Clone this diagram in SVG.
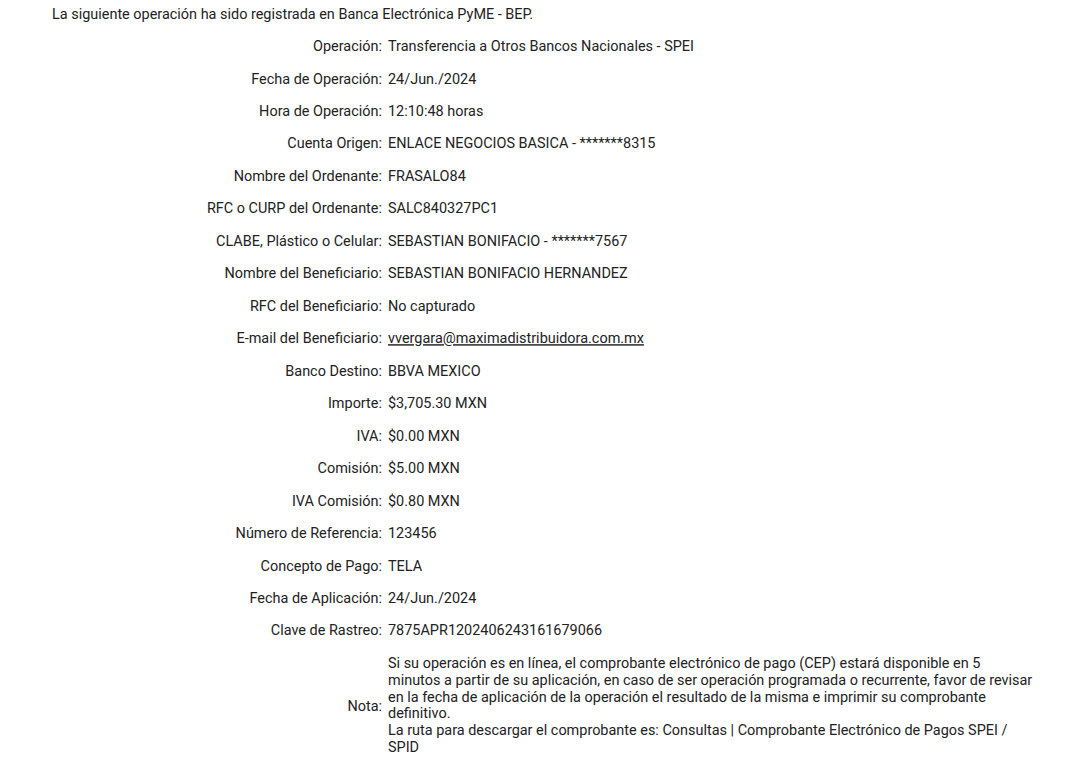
<svg xmlns="http://www.w3.org/2000/svg" width="1080" height="761" viewBox="0 0 1080 761">
<style>
text{font-family:Roboto,"Liberation Sans",sans-serif;font-size:14.45px;fill:#222}
.l{text-anchor:end}
.u{text-decoration:underline}
</style>
<rect width="1080" height="761" fill="#fff"/>
<text x="52" y="18.5">La siguiente operación ha sido registrada en Banca Electrónica PyME - BEP.</text>
<g id="rows">
<g id="r1"><text class="l" x="382" y="51">Operación:</text><text x="388" y="51">Transferencia a Otros Bancos Nacionales - SPEI</text></g>
<g id="r2"><text class="l" x="382" y="83.5">Fecha de Operación:</text><text x="388" y="83.5">24/Jun./2024</text></g>
<g id="r3"><text class="l" x="382" y="115.9">Hora de Operación:</text><text x="388" y="115.9">12:10:48 horas</text></g>
<g id="r4"><text class="l" x="382" y="148.4">Cuenta Origen:</text><text x="388" y="148.4">ENLACE NEGOCIOS BASICA - *******8315</text></g>
<g id="r5"><text class="l" x="382" y="180.9">Nombre del Ordenante:</text><text x="388" y="180.9">FRASALO84</text></g>
<g id="r6"><text class="l" x="382" y="213.3">RFC o CURP del Ordenante:</text><text x="388" y="213.3">SALC840327PC1</text></g>
<g id="r7"><text class="l" x="382" y="245.8">CLABE, Plástico o Celular:</text><text x="388" y="245.8">SEBASTIAN BONIFACIO - *******7567</text></g>
<g id="r8"><text class="l" x="382" y="278.3">Nombre del Beneficiario:</text><text x="388" y="278.3">SEBASTIAN BONIFACIO HERNANDEZ</text></g>
<g id="r9"><text class="l" x="382" y="310.7">RFC del Beneficiario:</text><text x="388" y="310.7">No capturado</text></g>
<g id="r10"><text class="l" x="382" y="343.2">E-mail del Beneficiario:</text><text class="u" x="388" y="343.2">vvergara@maximadistribuidora.com.mx</text></g>
<g id="r11"><text class="l" x="382" y="375.7">Banco Destino:</text><text x="388" y="375.7">BBVA MEXICO</text></g>
<g id="r12"><text class="l" x="382" y="408.1">Importe:</text><text x="388" y="408.1">$3,705.30 MXN</text></g>
<g id="r13"><text class="l" x="382" y="440.6">IVA:</text><text x="388" y="440.6">$0.00 MXN</text></g>
<g id="r14"><text class="l" x="382" y="473.1">Comisión:</text><text x="388" y="473.1">$5.00 MXN</text></g>
<g id="r15"><text class="l" x="382" y="505.5">IVA Comisión:</text><text x="388" y="505.5">$0.80 MXN</text></g>
<g id="r16"><text class="l" x="382" y="538">Número de Referencia:</text><text x="388" y="538">123456</text></g>
<g id="r17"><text class="l" x="382" y="570.5">Concepto de Pago:</text><text x="388" y="570.5">TELA</text></g>
<g id="r18"><text class="l" x="382" y="602.9">Fecha de Aplicación:</text><text x="388" y="602.9">24/Jun./2024</text></g>
<g id="r19"><text class="l" x="382" y="635.4">Clave de Rastreo:</text><text x="388" y="635.4">7875APR1202406243161679066</text></g>
<g id="nota">
<text class="l" x="382" y="710.5">Nota:</text>
<text x="388" y="668.3">Si su operación es en línea, el comprobante electrónico de pago (CEP) estará disponible en 5</text>
<text x="388" y="685">minutos a partir de su aplicación, en caso de ser operación programada o recurrente, favor de revisar</text>
<text x="388" y="701.7">en la fecha de aplicación de la operación el resultado de la misma e imprimir su comprobante</text>
<text x="388" y="718.4">definitivo.</text>
<text x="388" y="735.1">La ruta para descargar el comprobante es: Consultas | Comprobante Electrónico de Pagos SPEI /</text>
<text x="388" y="751.8">SPID</text>
</g>
</g>
</svg>
